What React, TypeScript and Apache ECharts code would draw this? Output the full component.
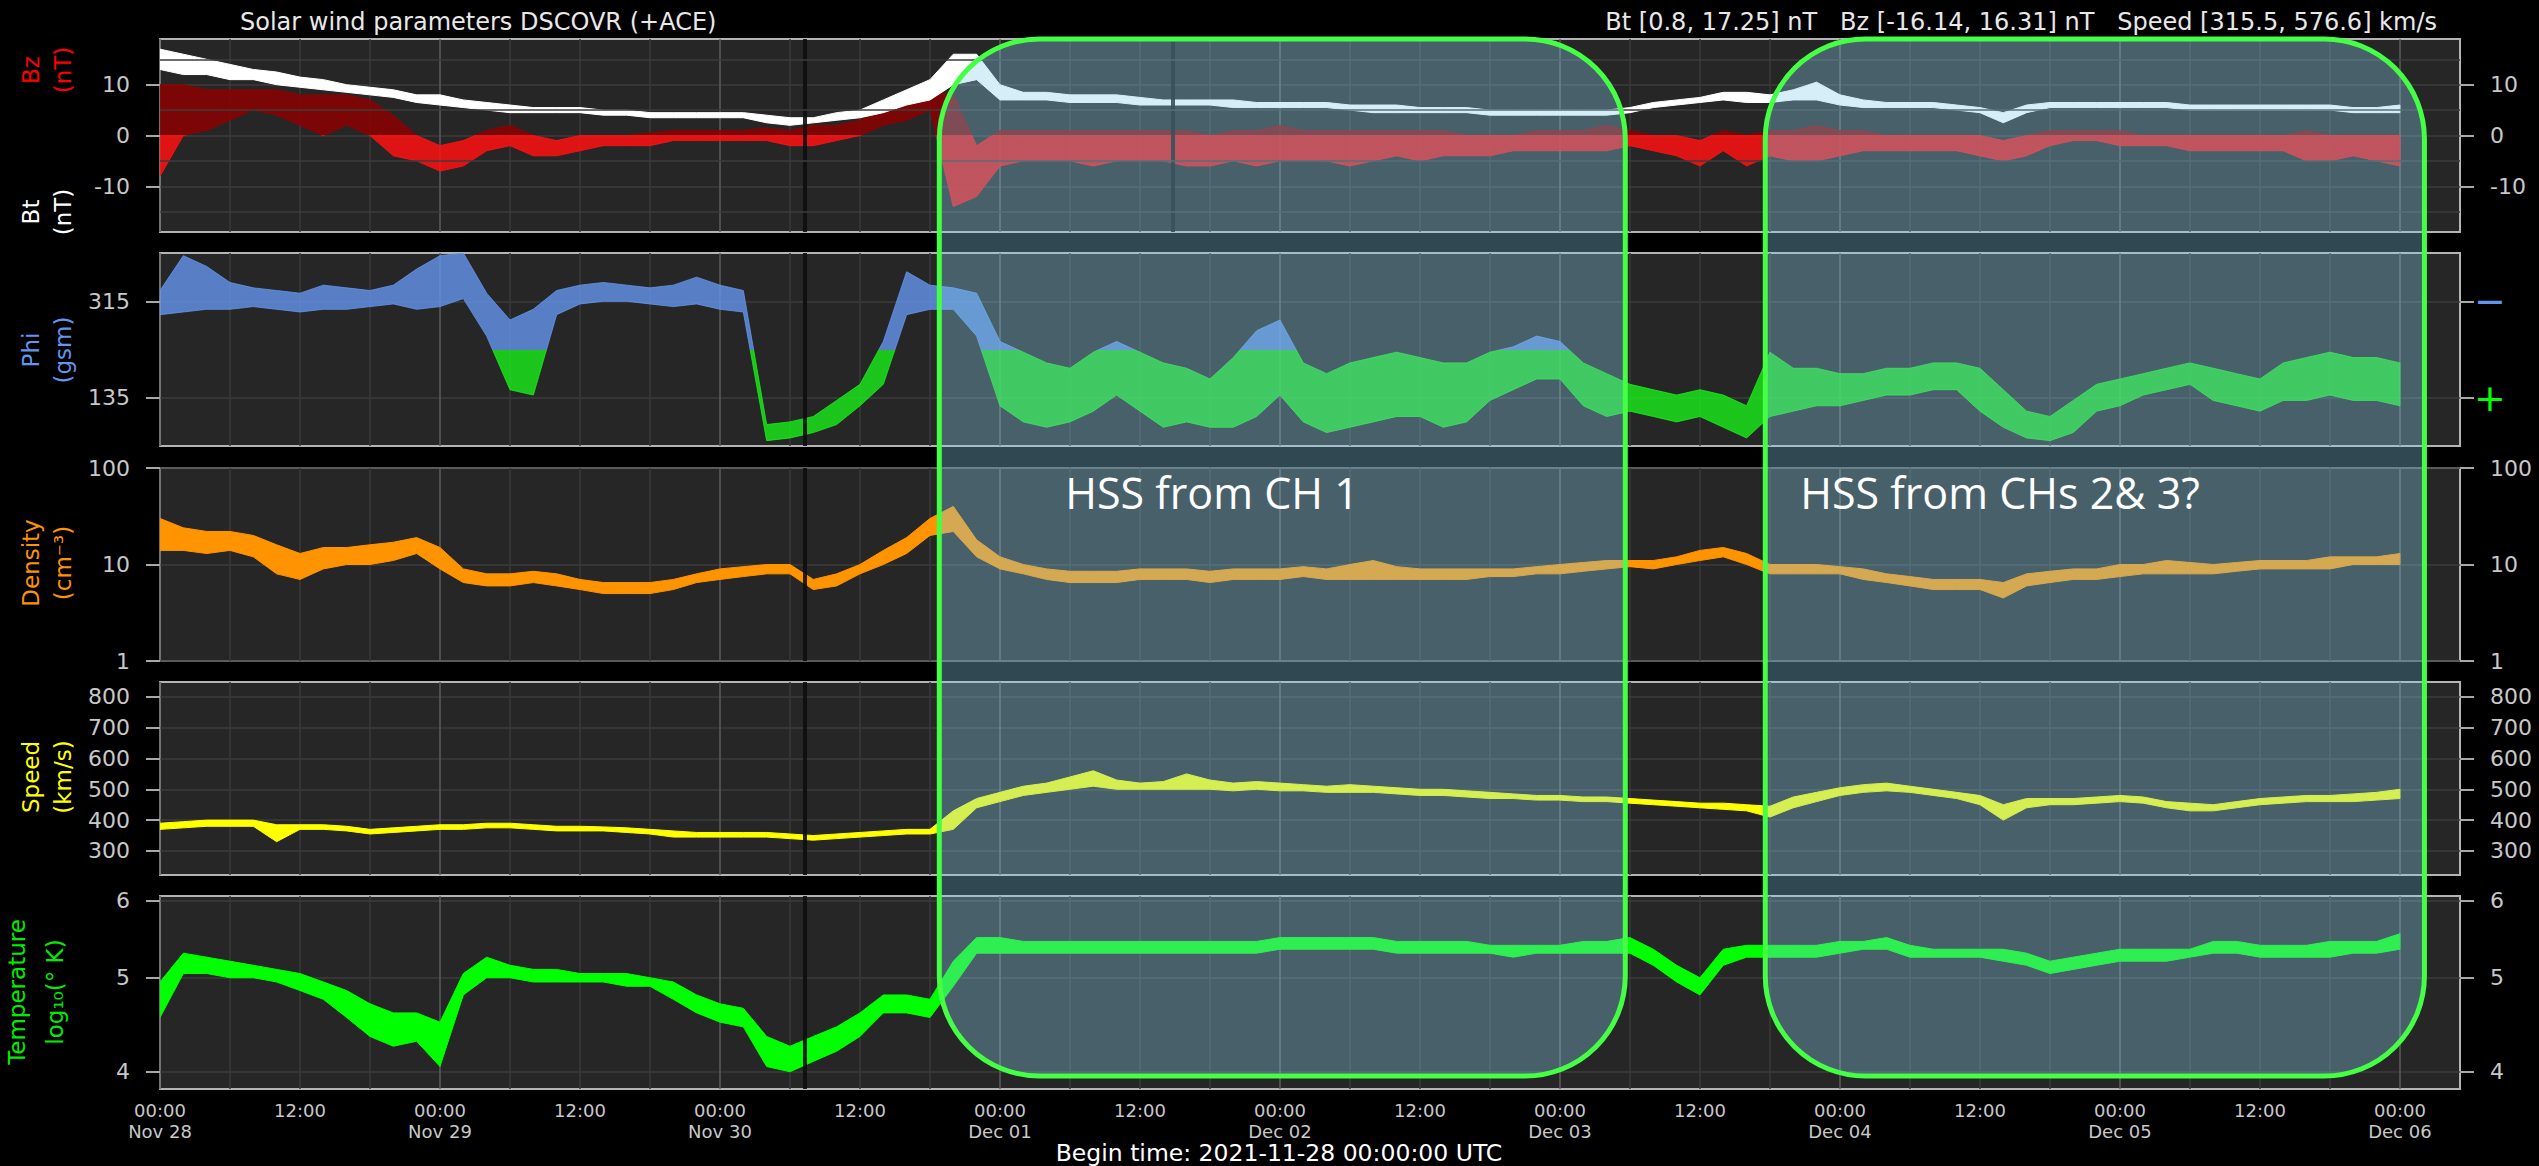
import React, { useEffect, useRef } from "react";
import * as echarts from "echarts";

// ---------- data (2-hour buckets starting 2021-11-28 00:00 UTC) ----------
const STEP_H = 2;
const X_END_H = 197.15;
const DAY_LABELS = ["Nov 28", "Nov 29", "Nov 30", "Dec 01", "Dec 02", "Dec 03", "Dec 04", "Dec 05", "Dec 06"];
const X_MAJOR_TICKS = [0, 12, 24, 36, 48, 60, 72, 84, 96, 108, 120, 132, 144, 156, 168, 180, 192];
const X_MINOR_TICKS = [0, 6, 12, 18, 24, 30, 36, 42, 48, 54, 60, 66, 72, 78, 84, 90, 96, 102, 108, 114, 120, 126, 132, 138, 144, 150, 156, 162, 168, 174, 180, 186, 192];

const BT_LO = [13, 12, 12, 11, 11, 10, 9.5, 9, 8.5, 8, 7.5, 6.5, 6, 5.5, 5, 4.5, 4.5, 4.5, 4.5, 4, 4, 3.5, 3.5, 3.5, 3.5, 3.5, 2.5, 2, 2.5, 3, 3.5, 4.5, 6, 7, 10, 11, 7, 7, 7, 6.5, 6.5, 6.5, 6, 6, 6, 6, 5.5, 5.5, 5.5, 5.5, 5.5, 5, 4.5, 4.5, 4.5, 4.5, 4.5, 4, 4, 4, 4, 4, 4, 4.5, 5.5, 6, 6.5, 7, 6.5, 6.5, 7, 7, 6, 5.5, 5.5, 5.5, 5.5, 5, 4.5, 2.5, 4.5, 5.5, 5.5, 5.5, 5.5, 5.5, 5.5, 5, 5, 5, 5, 5, 5, 5, 4.5, 4.5, 4.5];
const BT_HI = [17, 16, 15, 14, 13, 12.5, 11.5, 11, 10, 9.5, 9, 8, 8, 7, 6.5, 6, 5.5, 5.5, 5.5, 5, 5, 4.5, 4.5, 4.5, 4.5, 4.5, 4, 3.5, 3.5, 4.5, 5, 7, 9, 11, 16, 16, 10, 8.5, 8.5, 8, 8, 8, 7.5, 7, 7, 7, 7, 6.5, 6.5, 6.5, 6.5, 6, 6, 6, 5.5, 5.5, 5.5, 5, 5, 5, 5, 5, 5, 5.5, 6.5, 7, 7.5, 8.5, 8.5, 8, 9, 10.5, 8, 7, 6.5, 6.5, 6.5, 6, 5.5, 4.5, 6, 6.5, 6.5, 6.5, 6.5, 6.5, 6.5, 6, 6, 6, 6, 6, 6, 6, 5.5, 5.5, 6];

const BZ_LO = [-8, 0, 1, 3, 5, 4, 2, 0, 2, 0, -4, -5, -7, -6, -3, -2, -4, -4, -3, -2, -2, -2, -1, -1, -1, -1, -1, -2, -2, -1, 0, 2, 3, 5, -14, -12, -6, -5, -5, -5, -6, -5, -5, -5, -6, -6, -5, -6, -5, -5, -5, -6, -5, -4, -5, -4, -4, -4, -3, -3, -3, -3, -3, -2, -3, -4, -6, -3, -6, -4, -5, -5, -4, -3, -3, -3, -3, -3, -4, -5, -4, -2, -1, -1, -2, -2, -2, -3, -3, -3, -3, -3, -5, -5, -4, -5, -6];
const BZ_HI = [10, 10, 9, 9, 9, 9, 8, 8, 8, 7, 4, 0, -2, -1, 1, 2, 0, -1, 0, 0, 0, 0.5, 1, 1, 1, 1, 1.5, 1, 2, 2, 3, 5, 7, 9, 8, -2, 1, 1, 1, 1, 1, 1, 1, 1, 1, 0, 1, 1, 2, 1, 1, 1, 1, 1, 1, 1, 0, 0, 0, 1, 1, 1, 2, 1, 0, 0, -1, 1, 0, 1, 1, 2, 1, 1, 0, 0, 0, 0, 0, -1, 0, 1, 1, 1, 1, 0, 0, 0, 0, 0, 0, 0, 1, 0, 0, 0, 0];

const PHI_LO = [290, 295, 300, 300, 305, 300, 295, 300, 300, 305, 310, 300, 305, 320, 250, 150, 140, 290, 310, 315, 315, 310, 305, 310, 300, 295, 55, 60, 70, 85, 120, 160, 290, 300, 300, 250, 120, 90, 80, 90, 110, 140, 110, 80, 90, 80, 80, 100, 140, 90, 70, 80, 90, 100, 100, 80, 90, 130, 150, 170, 170, 120, 100, 110, 100, 90, 100, 80, 60, 100, 110, 120, 120, 130, 140, 140, 150, 150, 110, 80, 60, 55, 70, 110, 120, 140, 150, 160, 130, 120, 110, 130, 130, 140, 130, 130, 120];
const PHI_HI = [335, 400, 380, 350, 340, 335, 330, 345, 340, 335, 345, 375, 400, 405, 330, 280, 300, 335, 345, 350, 345, 340, 345, 360, 345, 335, 85, 90, 100, 130, 160, 240, 370, 345, 340, 330, 240, 220, 200, 190, 220, 240, 220, 200, 190, 170, 210, 260, 280, 200, 180, 200, 210, 220, 210, 200, 200, 220, 230, 250, 240, 200, 180, 160, 150, 140, 150, 140, 120, 220, 190, 190, 180, 180, 190, 190, 200, 200, 190, 150, 110, 100, 130, 160, 170, 180, 190, 200, 190, 180, 170, 200, 210, 220, 210, 210, 200];

const DEN_LO = [14, 14, 13, 14, 12, 8, 7, 9, 10, 10, 11, 13, 9, 6.5, 6, 6, 6.5, 6, 5.5, 5, 5, 5, 5.5, 6.5, 7, 7.5, 8, 8, 5.5, 6, 8, 10, 13, 20, 22, 12, 9, 8, 7, 6.5, 6.5, 6.5, 7, 7, 7, 6.5, 7, 7, 7, 7.5, 7, 7, 7, 7, 7, 7, 7, 7.5, 7.5, 8, 8, 8.5, 9, 9.5, 9, 10, 11, 12, 10, 8, 8, 8, 8, 7, 6.5, 6, 5.5, 5.5, 5.5, 4.5, 6, 6.5, 7, 7, 7.5, 8, 8, 8, 8, 8.5, 9, 9, 9, 9, 10, 10, 10];
const DEN_HI = [30, 24, 22, 22, 20, 16, 13, 15, 15, 16, 17, 19, 15, 9, 8, 8, 8.5, 8, 7, 6.5, 6.5, 6.5, 7, 8, 9, 9.5, 10, 10, 7, 8, 10, 14, 19, 30, 40, 18, 12, 10, 9, 8.5, 8.5, 8.5, 9, 9, 9, 8.5, 9, 9, 9, 9.5, 9, 10, 11, 9.5, 9, 9, 9, 9, 9, 9.5, 10, 10.5, 11, 11, 11, 12, 14, 15, 13, 10, 10, 10, 9.5, 9, 8, 7.5, 7, 7, 7, 6.5, 8, 8.5, 9, 9, 10, 10, 11, 10.5, 10, 10.5, 11, 11, 11, 12, 12, 12, 13];

const SPD_LO = [370, 375, 380, 380, 380, 330, 370, 370, 365, 355, 360, 365, 370, 370, 375, 375, 370, 365, 365, 365, 360, 355, 345, 345, 345, 345, 345, 340, 335, 340, 345, 350, 355, 355, 370, 440, 460, 480, 490, 500, 510, 500, 500, 500, 500, 500, 495, 500, 495, 495, 490, 490, 490, 485, 480, 480, 475, 470, 470, 465, 465, 460, 460, 455, 450, 445, 440, 435, 430, 410, 440, 460, 480, 490, 495, 490, 480, 470, 450, 400, 440, 450, 450, 455, 460, 455, 440, 430, 430, 440, 450, 455, 460, 460, 460, 465, 470];
const SPD_HI = [390, 395, 400, 400, 400, 385, 385, 385, 380, 370, 375, 380, 385, 385, 390, 390, 385, 380, 380, 378, 375, 370, 365, 360, 360, 360, 360, 355, 350, 355, 360, 365, 370, 370, 430, 470, 490, 510, 520, 540, 560, 530, 520, 525, 550, 530, 520, 525, 520, 515, 510, 515, 510, 505, 500, 500, 495, 490, 485, 480, 480, 475, 475, 470, 465, 460, 455, 455, 450, 445, 475, 490, 505, 515, 520, 510, 500, 490, 480, 450, 470, 470, 470, 475, 480, 475, 460, 455, 450, 460, 470, 475, 480, 480, 485, 490, 500];

const TEMP_LO = [4.55, 5.05, 5.05, 5.0, 5.0, 4.95, 4.85, 4.75, 4.55, 4.35, 4.25, 4.3, 4.05, 4.8, 5.0, 5.0, 4.95, 4.95, 4.95, 4.95, 4.9, 4.9, 4.75, 4.6, 4.5, 4.45, 4.05, 4.0, 4.1, 4.2, 4.35, 4.6, 4.6, 4.55, 4.9, 5.3, 5.3, 5.3, 5.3, 5.3, 5.3, 5.3, 5.3, 5.3, 5.3, 5.3, 5.3, 5.3, 5.35, 5.35, 5.35, 5.35, 5.35, 5.3, 5.3, 5.3, 5.3, 5.3, 5.25, 5.3, 5.3, 5.3, 5.3, 5.3, 5.15, 4.95, 4.8, 5.15, 5.25, 5.25, 5.25, 5.25, 5.3, 5.35, 5.35, 5.25, 5.25, 5.25, 5.25, 5.2, 5.15, 5.05, 5.1, 5.15, 5.2, 5.2, 5.2, 5.25, 5.3, 5.3, 5.25, 5.25, 5.25, 5.25, 5.3, 5.3, 5.35];
const TEMP_HI = [4.95, 5.3, 5.25, 5.2, 5.15, 5.1, 5.05, 4.95, 4.85, 4.7, 4.6, 4.6, 4.5, 5.05, 5.25, 5.15, 5.1, 5.1, 5.05, 5.05, 5.05, 5.0, 4.95, 4.8, 4.7, 4.65, 4.35, 4.25, 4.35, 4.45, 4.6, 4.8, 4.8, 4.75, 5.2, 5.5, 5.5, 5.45, 5.45, 5.45, 5.45, 5.45, 5.45, 5.45, 5.45, 5.45, 5.45, 5.45, 5.5, 5.5, 5.5, 5.5, 5.5, 5.45, 5.45, 5.45, 5.45, 5.4, 5.4, 5.4, 5.4, 5.45, 5.45, 5.5, 5.35, 5.15, 5.0, 5.35, 5.4, 5.4, 5.4, 5.4, 5.45, 5.45, 5.5, 5.4, 5.35, 5.35, 5.35, 5.35, 5.3, 5.2, 5.25, 5.3, 5.35, 5.35, 5.35, 5.35, 5.45, 5.45, 5.4, 5.4, 5.4, 5.45, 5.45, 5.45, 5.55];

// axis ticks / ranges
const BZ_RANGE = [-19, 19];
const BZ_TICKS = [-10, 0, 10];
const BZ_MINOR = [-15, -5, 5, 15];
const PHI_RANGE = [45, 405];
const PHI_TICKS = [135, 315];
const PHI_SPLIT = 225;
const DEN_RANGE = [1, 100];
const SPD_RANGE = [222, 848];
const SPD_TICKS = [300, 400, 500, 600, 700, 800];
const TEMP_RANGE = [3.84, 6.07];
const TEMP_TICKS = [4, 5, 6];
const DATA_GAPS = [55.3];
const MAG_GAPS = [86.8];

// annotated HSS intervals (hours since start)
const HSS_START = [66.8, 137.6];
const HSS_END = [125.6, 194.1];
const HSS_LABEL = ["HSS from CH 1", "HSS from CHs 2& 3?"];
const HSS_LABEL_AT = [77.6, 140.6];
const HSS_LABEL_DENSITY = 56;
const HSS_TOP_BZ = 19;
const HSS_BOTTOM_TEMP = 3.96;

const TITLE_LEFT = "Solar wind parameters DSCOVR (+ACE)";
const TITLE_RIGHT = "Bt [0.8, 17.25] nT   Bz [-16.14, 16.31] nT   Speed [315.5, 576.6] km/s";
const BEGIN_TIME = "Begin time: 2021-11-28 00:00:00 UTC";

// ---------- layout / style ----------
const GRID_LEFT = 160;
const GRID_WIDTH = 2300;
const GRID_TOPS = [39, 253, 468, 682, 896];
const GRID_H = 193;
const FONT = "DejaVu Sans";
const TICK_COLOR = "#c8c8c8";
const GRID_LINE = "#3c3c3c";

const lnT = (v: number) => Math.log(v);

function bandSeries(
  name: string,
  grid: number,
  yIdx: number,
  lo: number[],
  hi: number[],
  fill: (params: any, api: any) => any,
  minPx: number,
  opacity: number,
  z: number
) {
  const xs = lo.map((_, i) => i * STEP_H);
  const data = lo.map((l, i) => [xs[i], l, hi[i]]);
  return {
    type: "custom",
    name,
    xAxisIndex: grid,
    yAxisIndex: yIdx,
    z,
    clip: true,
    silent: true,
    encode: { x: 0, y: [1, 2] },
    data,
    renderItem: (params: any, api: any) => {
      if (params.dataIndex !== 0) return null;
      const top: number[][] = [];
      const bot: number[][] = [];
      for (let i = 0; i < xs.length; i++) {
        const a = api.coord([xs[i], hi[i]]);
        const b = api.coord([xs[i], lo[i]]);
        if (b[1] - a[1] < minPx) {
          const m = (a[1] + b[1]) / 2;
          a[1] = m - minPx / 2;
          b[1] = m + minPx / 2;
        }
        top.push(a);
        bot.push(b);
      }
      const points = top.concat(bot.reverse());
      const f = fill(params, api);
      return {
        type: "polygon",
        shape: { points },
        style: { fill: f, stroke: f, lineWidth: 1, opacity },
      };
    },
  };
}

function splitFill(splitValue: number, above: string, below: string) {
  return (params: any, api: any) => {
    const cs = params.coordSys;
    const ys = api.coord([0, splitValue])[1];
    let f = (ys - cs.y) / cs.height;
    f = Math.max(0, Math.min(1, f));
    return new echarts.graphic.LinearGradient(
      0,
      cs.y,
      0,
      cs.y + cs.height,
      [
        { offset: 0, color: above },
        { offset: f, color: above },
        { offset: f, color: below },
        { offset: 1, color: below },
      ],
      true
    );
  };
}
const solid = (c: string) => () => c;

function gapSeries(grid: number, yIdx: number, extraY: number[], gaps: number[]) {
  const lines: any[] = [];
  gaps.forEach((g) =>
    lines.push({ xAxis: g, lineStyle: { color: "#0e0e0e", width: 4, type: "solid", opacity: 0.9 } })
  );
  extraY.forEach((v) =>
    lines.push({ yAxis: v, lineStyle: { color: GRID_LINE, width: 1.5, type: "solid" } })
  );
  return {
    type: "line",
    xAxisIndex: grid,
    yAxisIndex: yIdx,
    data: [],
    z: 1,
    silent: true,
    markLine: { silent: true, symbol: ["none", "none"], label: { show: false }, animation: false, data: lines },
  };
}

function yAxis(grid: number, pos: "left" | "right", extra: any) {
  const base: any = {
    type: "value",
    gridIndex: grid,
    position: pos,
    axisLine: { show: false },
    axisTick: { show: true, length: 14, lineStyle: { color: "#a8a8a8", width: 2 } },
    axisLabel: { color: TICK_COLOR, fontSize: 22, margin: 30, fontFamily: FONT },
    splitLine: { show: pos === "left", lineStyle: { color: GRID_LINE, width: 1.5 } },
  };
  const out = { ...base, ...extra };
  if (extra.axisTick) out.axisTick = { ...base.axisTick, ...extra.axisTick };
  if (extra.axisLabel) out.axisLabel = { ...base.axisLabel, ...extra.axisLabel };
  return out;
}

function buildOption() {
  const grids = GRID_TOPS.map((t) => ({
    left: GRID_LEFT,
    top: t,
    width: GRID_WIDTH,
    height: GRID_H,
    show: true,
    backgroundColor: "#262626",
    borderColor: "#b4b4b4",
    borderWidth: 2,
  }));

  const xAxes = GRID_TOPS.map((_, i) => ({
    type: "value",
    gridIndex: i,
    min: 0,
    max: X_END_H,
    axisLine: { show: false },
    axisTick: { show: false, customValues: X_MINOR_TICKS },
    axisLabel: {
      show: i === GRID_TOPS.length - 1,
      customValues: X_MAJOR_TICKS,
      color: TICK_COLOR,
      fontSize: 18,
      lineHeight: 21,
      margin: 11,
      fontFamily: FONT,
      formatter: (v: number) => {
        const h = Math.round(v);
        return h % 24 === 0 ? `00:00\n${DAY_LABELS[h / 24]}` : "12:00";
      },
    },
    splitLine: {
      show: true,
      lineStyle: { color: ["#5c5c5c", "#3a3a3a", "#3a3a3a", "#3a3a3a"], width: 1.5 },
    },
  }));

  const tempFmt = (v: number) => String(Math.round(Math.exp(v)));
  const tempTicks = TEMP_TICKS.map(lnT);

  const yAxes: any[] = [];
  // panel 1: Bz / Bt
  (["left", "right"] as const).forEach((p) =>
    yAxes.push(
      yAxis(0, p, {
        min: BZ_RANGE[0],
        max: BZ_RANGE[1],
        axisTick: { customValues: BZ_TICKS },
        axisLabel: { customValues: BZ_TICKS },
      })
    )
  );
  // panel 2: Phi
  yAxes.push(
    yAxis(1, "left", {
      min: PHI_RANGE[0],
      max: PHI_RANGE[1],
      axisTick: { customValues: PHI_TICKS },
      axisLabel: { customValues: PHI_TICKS },
    })
  );
  yAxes.push(
    yAxis(1, "right", {
      min: PHI_RANGE[0],
      max: PHI_RANGE[1],
      axisTick: { customValues: PHI_TICKS },
      axisLabel: {
        customValues: PHI_TICKS,
        margin: 14,
        formatter: (v: number) => (v > PHI_SPLIT ? "{m|\u2212}" : "{p|+}"),
        rich: {
          m: { color: "#6495ed", fontSize: 38, fontFamily: FONT },
          p: { color: "#00ff00", fontSize: 38, fontFamily: FONT },
        },
      },
    })
  );
  // panel 3: density (log)
  (["left", "right"] as const).forEach((p) =>
    yAxes.push(
      yAxis(2, p, {
        type: "log",
        logBase: 10,
        min: DEN_RANGE[0],
        max: DEN_RANGE[1],
      })
    )
  );
  // panel 4: speed
  (["left", "right"] as const).forEach((p) =>
    yAxes.push(
      yAxis(3, p, {
        min: SPD_RANGE[0],
        max: SPD_RANGE[1],
        axisTick: { customValues: SPD_TICKS },
        axisLabel: { customValues: SPD_TICKS },
      })
    )
  );
  // panel 5: temperature (log of log10 T)
  (["left", "right"] as const).forEach((p) =>
    yAxes.push(
      yAxis(4, p, {
        min: lnT(TEMP_RANGE[0]),
        max: lnT(TEMP_RANGE[1]),
        axisTick: { customValues: tempTicks },
        axisLabel: { customValues: tempTicks, formatter: tempFmt },
      })
    )
  );

  const series: any[] = [
    gapSeries(0, 0, BZ_MINOR, DATA_GAPS.concat(MAG_GAPS)),
    gapSeries(1, 2, [], DATA_GAPS),
    gapSeries(2, 4, [], DATA_GAPS),
    gapSeries(3, 6, [], DATA_GAPS),
    gapSeries(4, 8, [], DATA_GAPS),
    bandSeries("Bz", 0, 0, BZ_LO, BZ_HI, splitFill(0, "#8b0000", "#ff1010"), 3, 0.85, 3),
    bandSeries("Bt", 0, 0, BT_LO, BT_HI, solid("#ffffff"), 4, 1, 4),
    bandSeries("Phi", 1, 2, PHI_LO, PHI_HI, splitFill(PHI_SPLIT, "#6495ed", "#19ee19"), 3, 0.8, 3),
    bandSeries("Density", 2, 4, DEN_LO, DEN_HI, solid("#ff9400"), 4, 1, 3),
    bandSeries("Speed", 3, 6, SPD_LO, SPD_HI, solid("#ffff00"), 4, 1, 3),
    bandSeries(
      "Temperature",
      4,
      8,
      TEMP_LO.map(lnT),
      TEMP_HI.map(lnT),
      solid("#00ff00"),
      4,
      1,
      3
    ),
  ];

  return {
    animation: false,
    backgroundColor: "#000000",
    textStyle: { fontFamily: FONT },
    grid: grids,
    xAxis: xAxes,
    yAxis: yAxes,
    series,
  };
}

function rotText(text: string, x: number, y: number, color: string) {
  return {
    type: "text",
    x,
    y,
    rotation: Math.PI / 2,
    silent: true,
    z: 50,
    style: {
      text,
      fill: color,
      font: `23px "${FONT}"`,
      align: "center",
      verticalAlign: "middle",
      textAlign: "center",
      textVerticalAlign: "middle",
    },
  };
}

function staticGraphics() {
  return [
    {
      type: "text",
      x: 240,
      y: 22,
      silent: true,
      style: {
        text: TITLE_LEFT,
        fill: "#e8e8e8",
        font: `24px "${FONT}"`,
        align: "left",
        verticalAlign: "middle",
        textAlign: "left",
        textVerticalAlign: "middle",
      },
    },
    {
      type: "text",
      x: 2437,
      y: 22,
      silent: true,
      style: {
        text: TITLE_RIGHT,
        fill: "#e8e8e8",
        font: `24px "${FONT}"`,
        align: "right",
        verticalAlign: "middle",
        textAlign: "right",
        textVerticalAlign: "middle",
      },
    },
    {
      type: "text",
      x: 1279,
      y: 1153,
      silent: true,
      style: {
        text: BEGIN_TIME,
        fill: "#ffffff",
        font: `23.5px "${FONT}"`,
        align: "center",
        verticalAlign: "middle",
        textAlign: "center",
        textVerticalAlign: "middle",
      },
    },
    rotText("Bz", 31, 70, "#ff0000"),
    rotText("(nT)", 63, 70, "#ff0000"),
    rotText("Bt", 31, 212, "#ffffff"),
    rotText("(nT)", 63, 212, "#ffffff"),
    rotText("Phi", 31, 350, "#6495ed"),
    rotText("(gsm)", 63, 350, "#6495ed"),
    rotText("Density", 31, 563, "#ff9400"),
    rotText("(cm\u207B\u00B3)", 63, 563, "#ff9400"),
    rotText("Speed", 31, 777, "#ffff00"),
    rotText("(km/s)", 63, 777, "#ffff00"),
    rotText("Temperature", 17, 992, "#00ee00"),
    rotText("log\u2081\u2080(\u00B0 K)", 55, 992, "#00ee00"),
  ];
}

function hssGraphics(chart: any) {
  const out: any[] = [];
  const yTop = chart.convertToPixel({ yAxisIndex: 0 }, HSS_TOP_BZ);
  const yBot = chart.convertToPixel({ yAxisIndex: 8 }, lnT(HSS_BOTTOM_TEMP));
  const yLab = chart.convertToPixel({ yAxisIndex: 4 }, HSS_LABEL_DENSITY);
  HSS_START.forEach((s, i) => {
    const xl = chart.convertToPixel({ xAxisIndex: 0 }, s);
    const xr = chart.convertToPixel({ xAxisIndex: 0 }, HSS_END[i]);
    out.push({
      type: "rect",
      silent: true,
      z: 100,
      shape: { x: xl, y: yTop, width: xr - xl, height: yBot - yTop, r: 100 },
      style: { fill: "rgba(135,206,235,0.35)", stroke: "#44ff44", lineWidth: 5 },
    });
    const xt = chart.convertToPixel({ xAxisIndex: 2 }, HSS_LABEL_AT[i]);
    out.push({
      type: "text",
      silent: true,
      z: 101,
      x: xt,
      y: yLab,
      style: {
        text: HSS_LABEL[i],
        fill: "#ffffff",
        font: `43px "Open Sans"`,
        align: "left",
        verticalAlign: "middle",
        textAlign: "left",
        textVerticalAlign: "middle",
      },
    });
  });
  return out;
}

export default function App() {
  const ref = useRef<HTMLDivElement>(null);
  useEffect(() => {
    const el = ref.current;
    if (!el) return;
    const chart = echarts.init(el, null, { renderer: "svg" });
    chart.setOption(buildOption() as any);
    const g = [...staticGraphics(), ...hssGraphics(chart)];
    chart.setOption({ graphic: { elements: g } } as any);
    return () => chart.dispose();
  }, []);
  return (
    <div
      ref={ref}
      style={{ position: "absolute", left: 0, top: 0, width: 2539, height: 1166, background: "#000" }}
    />
  );
}
